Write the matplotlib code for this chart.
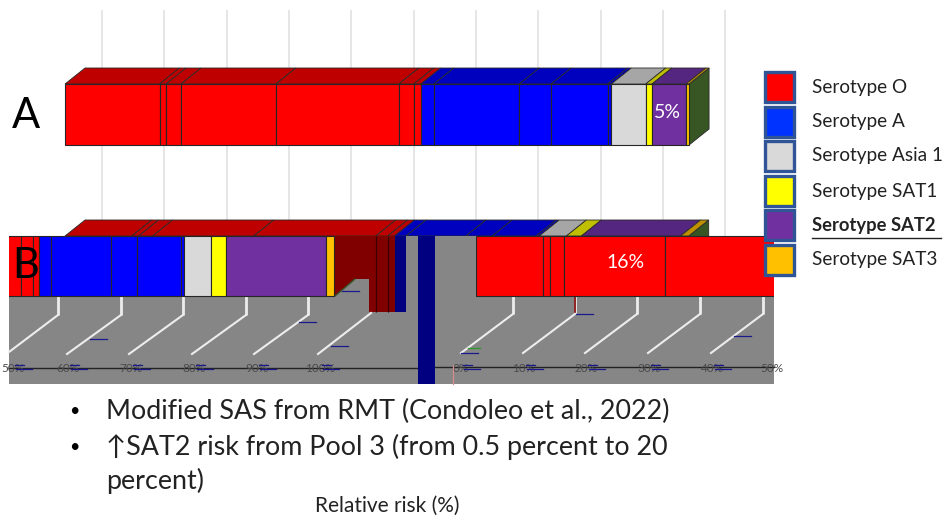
import matplotlib
matplotlib.use("Agg")
import matplotlib.pyplot as plt
from matplotlib.patches import Polygon, Rectangle

# ---------- data (percent of relative risk) ----------
serotypes = ["Serotype O", "Serotype A", "Serotype Asia 1", "Serotype SAT1", "Serotype SAT2", "Serotype SAT3"]
serotype_a_values = [15.15, 1.04, 2.40, 15.20, 19.70, 2.40, 1.12]
serotype_a_blue = [2.10, 13.70, 5.10, 9.05, 0.60]
bar_a_other = [5.50, 1.00, 5.45, 0.50]
serotype_b_values = [10.70, 1.10, 2.25, 16.20, 19.55, 1.90, 1.10]
serotype_b_blue = [1.85, 9.60, 4.20, 7.05, 0.50]
bar_b_other = [4.35, 2.40, 15.90, 1.30]
axis_labels_left = ["50%", "60%", "70%", "80%", "90%", "100%"]
axis_labels_right = ["0%", "10%", "20%", "30%", "40%", "50%"]

front = ["#FF0000", "#0000FF", "#D9D9D9", "#FFFF00", "#7030A0", "#FFC000"]
top = ["#BF0000", "#0000BF", "#A6A6A6", "#BFBF00", "#54267F", "#BF9000"]
legend_cols = ["#FF0000", "#0033FF", "#D9D9D9", "#FFFF00", "#7030A0", "#FFC000"]

W, H = 949, 517
PX = 6.24
X0 = 65
DX, DY = 20, 16
GREY = "#868686"


def segs(o, a, rest):
    out = [(v, 0) for v in o] + [(v, 1) for v in a]
    out += [(v, i + 2) for i, v in enumerate(rest)]
    return out


A = segs(serotype_a_values, serotype_a_blue, bar_a_other)
B = segs(serotype_b_values, serotype_b_blue, bar_b_other)

fig = plt.figure(figsize=(W / 100, H / 100), dpi=100, facecolor="white")
plt.rcParams["font.family"] = ["Lato", "DejaVu Sans"]


def layer(z, percent=False):
    ax = fig.add_axes([0, 0, 1, 1], zorder=z)
    if percent:
        ax.set_xlim(-X0 / PX, (W - X0) / PX)
    else:
        ax.set_xlim(0, W)
    ax.set_ylim(H, 0)
    ax.axis("off")
    ax.patch.set_alpha(0)
    return ax


under = layer(1)
bars = layer(2, True)
mid = layer(3)
front_ax = layer(4, True)
over = layer(5)

# gridlines
grid_x = [102 + 62.35 * i for i in range(11)]
under.vlines(grid_x, 10, 236, color="#E4E4E4", lw=1.3)


def faces(y_top, y_bot, data):
    left = 0.0
    dx = DX / PX
    for v, c in data:
        pts = [(left, y_top), (left + v, y_top), (left + v + dx, y_top - DY), (left + dx, y_top - DY)]
        bars.add_patch(Polygon(pts, closed=True, fc=top[c], ec="#2a2a2a", lw=0.6, zorder=2))
        left += v
    pts = [(left, y_top), (left + dx, y_top - DY), (left + dx, y_bot - DY), (left, y_bot)]
    bars.add_patch(Polygon(pts, closed=True, fc="#375623", ec="#2a2a2a", lw=0.6, zorder=1))


def draw_front(ax, y_top, y_bot, data, shift=0.0, clip=None):
    left = shift
    for v, c in data:
        rects = ax.barh((y_top + y_bot) / 2, v, left=left, height=y_bot - y_top,
                        color=front[c], edgecolor="#262626", linewidth=0.8)
        if clip is not None:
            box = Rectangle((clip[0], y_top - 2), clip[1] - clip[0], y_bot - y_top + 4,
                            transform=ax.transData)
            for r in rects:
                r.set_clip_path(box)
        left += v


# bar A
faces(84, 145, A)
draw_front(bars, 84, 145, A)
bars.set_ylim(H, 0)

# bar B: back faces
faces(236, 296, B)

# grey glitch region (screen capture artefact)
mid.add_patch(Rectangle((9, 296), 765, 88, fc=GREY, ec="none", zorder=1))
mid.add_patch(Rectangle((335, 236), 141, 60, fc=GREY, ec="none", zorder=1))
mid.add_patch(Polygon([(335, 236), (369, 236), (369, 279), (355, 279), (335, 296)],
                      closed=True, fc="#800000", ec="none", zorder=2))
mid.add_patch(Rectangle((369, 236), 26, 76, fc="#800000", ec="none", zorder=2))
mid.vlines([376, 388], 236, 312, color="#3a0000", lw=0.9, zorder=3)
mid.add_patch(Rectangle((395, 236), 11, 76, fc="#000080", ec="none", zorder=2))
mid.add_patch(Rectangle((418, 236), 17, 148, fc="#000080", ec="none", zorder=4))
mid.plot([335, 355], [296, 279], color="#375623", lw=1, zorder=3)

# floor gridlines
for x in [58, 121, 183, 246, 308]:
    mid.plot([x, x], [296, 315], color="#EDEDED", lw=2, zorder=3, solid_capstyle="butt")
    mid.plot([x, max(x - 54, 9)], [315, 354 if x > 60 else 352], color="#EDEDED", lw=1.5, zorder=3)
mid.plot([371, 318], [313, 354], color="#EDEDED", lw=1.5, zorder=3)
for x in [513, 575, 637, 700, 763]:
    mid.plot([x, x], [296, 314], color="#EDEDED", lw=2, zorder=3, solid_capstyle="butt")
    mid.plot([x, x - 52], [314, 353], color="#EDEDED", lw=1.5, zorder=3)

# axis line
mid.plot([9, 418], [368, 368], color="#222222", lw=1.0, zorder=3)
mid.plot([435, 774], [367, 367], color="#222222", lw=1.0, zorder=3)

# axis labels
label_x_l = [13, 68, 131, 194, 257, 320]
label_x_r = [461, 524, 586, 649, 712, 772]
clip_box = Rectangle((9, 296), 765, 88, transform=mid.transData)
for lab, x in zip(axis_labels_left + axis_labels_right, label_x_l + label_x_r):
    t = mid.text(x, 368, lab, fontsize=8.5, color="#4a4a4a", ha="center", va="center", zorder=5)
    t.set_clip_path(clip_box)
    l1, = mid.plot([x + 2, x + 11], [364.5, 364.5], color="#1a1a8a", lw=0.9, zorder=5)
    l2, = mid.plot([x + 3, x + 19], [369, 369], color="#1a1a8a", lw=0.9, zorder=5)
    l1.set_clip_path(clip_box)
    l2.set_clip_path(clip_box)

# stray dashes
dashes = [(90, 107, 339), (299, 316, 322), (331, 348, 346), (342, 359, 291),
          (576, 593, 314), (461, 478, 353), (734, 751, 336)]
for x0, x1, y in dashes:
    mid.plot([x0, x1], [y, y], color="#1a1a8a", lw=0.9, zorder=5)
mid.plot([468, 480], [348, 348], color="#2a9a2a", lw=0.9, zorder=5)
mid.plot([575, 575], [297, 312], color="#800000", lw=1.2, zorder=5)
mid.plot([453, 453], [365, 384], color="#D98A8A", lw=0.9, zorder=5)

# bar B front, wrapped over two strips
clip_r = ((476 - X0) / PX, (774 - X0) / PX)
clip_l = ((9 - X0) / PX, (335 - X0) / PX)
draw_front(front_ax, 236, 296, B, shift=411 / PX, clip=clip_r)
draw_front(front_ax, 236, 296, B, shift=-355 / PX, clip=clip_l)
front_ax.set_xlim(-X0 / PX, (W - X0) / PX)
front_ax.set_ylim(H, 0)

# value labels
over.text(667, 113, "5%", color="white", fontsize=14, ha="center", va="center")
over.text(626, 263, "16%", color="white", fontsize=14, ha="center", va="center")

# panel letters
over.text(26, 116, "A", fontsize=30, color="black", ha="center", va="center")
over.text(26, 266, "B", fontsize=30, color="black", ha="center", va="center")

# legend
leg_y = [87, 122, 156, 191, 225, 260]
for name, col, y in zip(serotypes, legend_cols, leg_y):
    over.add_patch(Rectangle((765, y - 15), 29, 30, fc=col, ec="#2F5597", lw=2.4))
    bold = name == "Serotype SAT2"
    over.text(812, y, name, fontsize=13.7 if not bold else 13.2, color="#222222", va="center", ha="left",
              fontweight="bold" if bold else "normal")
over.plot([812, 941], [238, 238], color="#222222", lw=1)

# bullets
over.text(74, 411, "•", fontsize=13, color="black", ha="center", va="center")
over.text(106, 411, "Modified SAS from RMT (Condoleo et al., 2022)", fontsize=19.4,
          color="#222222", va="center", ha="left")
over.text(74, 447, "•", fontsize=13, color="black", ha="center", va="center")
over.text(106, 447, "↑SAT2 risk from Pool 3 (from 0.5 percent to 20", fontsize=19.4,
          color="#222222", va="center", ha="left")
over.text(106, 481, "percent)", fontsize=19.4, color="#222222", va="center", ha="left")
over.text(387, 506, "Relative risk (%)", fontsize=15, color="#222222", va="center", ha="center")

fig.savefig("out.png", dpi=100, facecolor="white")
